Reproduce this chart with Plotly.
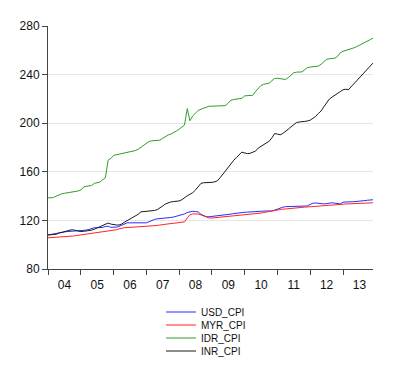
import pandas as pd
import plotly.graph_objects as go

months = pd.date_range("2004-01-01", "2013-12-01", freq="MS")

usd_cpi = [108.0, 108.5, 109.0, 109.5, 110.0, 110.3, 110.5, 110.8, 111.0, 111.2, 111.5, 111.3,
           111.3, 111.6, 112.0, 112.5, 113.2, 114.0, 114.0, 114.0, 114.2, 115.0, 115.2, 114.3,
           114.2, 114.5, 115.0, 116.0, 117.0, 118.0, 118.0, 118.0, 117.8, 117.5, 117.6, 117.8,
           118.0, 119.0, 120.0, 120.8, 121.3, 121.5, 121.5, 121.5, 122.0, 122.4, 122.8, 123.3,
           123.7, 124.2, 125.3, 126.5, 127.3, 127.5, 127.3, 127.0, 125.0, 123.8, 123.0, 123.0,
           123.2, 123.5, 123.7, 123.9, 124.1, 124.5, 124.8, 125.2, 125.6, 126.0, 126.2, 126.5,
           126.7, 126.8, 127.0, 127.2, 127.4, 127.6, 127.7, 127.7, 127.8, 127.8, 127.8, 128.5,
           129.5, 130.2, 130.8, 131.3, 131.3, 131.2, 131.3, 131.3, 131.3, 131.5, 131.8, 132.0,
           133.0, 134.2, 134.3, 134.0, 133.8, 133.6, 133.8, 134.3, 134.5, 134.2, 133.8, 133.6,
           135.0, 135.3, 135.3, 135.3, 135.4, 135.5, 135.8, 136.0, 136.3, 136.6, 136.9, 137.0]

myr_cpi = [105.7, 105.8, 105.9, 106.0, 106.2, 106.3, 106.4, 106.5, 106.8, 107.1, 107.4, 107.7,
           108.0, 108.4, 108.8, 109.2, 109.6, 110.0, 110.2, 110.4, 110.6, 110.8, 111.2, 111.6,
           112.0, 112.3, 113.0, 113.8, 114.0, 114.1, 114.2, 114.3, 114.5, 114.7, 114.8, 115.0,
           115.1, 115.3, 115.5, 115.6, 115.8, 116.2, 116.6, 117.0, 117.2, 117.4, 117.6, 117.8,
           118.0, 118.2, 118.8, 122.0, 124.6, 125.3, 125.5, 125.3, 124.5, 123.5, 122.5, 122.0,
           122.0, 122.2, 122.4, 122.6, 122.8, 123.0, 123.2, 123.4, 123.6, 123.8, 124.0, 124.2,
           124.4, 124.6, 124.8, 125.0, 125.3, 125.6, 126.0, 126.5, 127.0, 127.5, 127.9, 128.3,
           128.6, 128.9, 129.2, 129.5, 129.8, 130.0, 130.2, 130.4, 130.5, 130.7, 130.9, 131.1,
           131.3, 131.5, 131.7, 131.9, 132.0, 132.2, 132.4, 132.6, 132.8, 133.0, 133.1, 133.3,
           133.4, 133.5, 133.6, 133.7, 133.8, 133.9, 134.0, 134.1, 134.2, 134.3, 134.4, 134.5]

idr_cpi = [138.5, 138.5, 138.8, 140.0, 141.0, 141.8, 142.3, 142.7, 143.0, 143.2, 143.5, 144.2,
           145.0, 147.5, 148.0, 148.3, 148.8, 150.5, 151.0, 151.5, 153.5, 155.0, 169.5, 171.0,
           173.5, 174.0, 174.3, 174.6, 175.0, 175.5, 176.0, 176.5, 177.5, 178.5, 180.0, 182.0,
           183.5, 185.0, 185.5, 185.5, 185.5, 186.0, 187.5, 189.0, 190.3, 191.0, 192.0, 193.5,
           195.0, 197.0, 198.5, 212.0, 202.0, 206.0, 208.5, 210.5, 211.5, 212.5, 213.5, 214.0,
           214.0, 214.0, 214.0, 214.0, 214.0, 214.5, 216.5, 219.0, 219.5, 219.8, 220.0, 220.5,
           222.5, 222.5, 222.5, 223.0, 226.0, 228.5, 231.0, 232.0, 232.5, 233.0, 235.0, 236.8,
           237.0, 236.5, 236.0, 236.0, 237.5, 239.5, 241.5, 242.0, 242.0, 242.2, 244.0, 245.8,
           246.2, 246.5, 246.8, 247.0, 248.5, 251.0, 252.5, 253.0, 253.3, 253.5, 255.0, 258.0,
           259.2, 259.8, 260.5, 261.3, 262.0, 263.0, 264.0, 265.2, 266.4, 267.6, 268.8, 270.0]

inr_cpi = [108.0, 108.2, 108.3, 108.6, 109.5, 110.3, 110.8, 111.3, 112.0, 112.3, 111.8, 111.0,
           110.8, 111.0, 111.2, 111.6, 112.0, 112.8, 113.8, 114.5, 115.5, 116.8, 117.8, 117.0,
           116.5, 116.2, 116.2, 117.0, 118.5, 119.8, 120.8, 121.8, 123.2, 125.0, 127.0, 127.2,
           127.3, 127.5, 127.8, 128.2, 128.8, 130.0, 131.8, 133.5, 134.5, 135.2, 135.5, 135.8,
           136.0, 137.0, 139.0, 140.3, 141.5, 142.8, 145.0, 148.0, 150.5, 151.0, 151.0, 151.0,
           151.3, 151.8, 152.5, 155.0, 157.8, 161.5, 164.5, 167.0, 169.5, 171.8, 174.0, 176.2,
           175.5, 175.0, 175.2, 175.8, 177.0, 179.5, 181.0, 182.5, 183.8, 185.2, 188.0, 191.5,
           191.0, 190.5, 191.5, 193.0, 195.0, 197.0, 199.0, 200.5, 201.0, 201.5, 201.5, 201.8,
           202.5, 204.0, 205.5, 208.0, 210.0, 213.5, 217.0, 219.8, 221.5, 222.8, 224.5, 226.0,
           227.5, 228.0, 227.5, 230.0, 232.5, 235.0, 237.5, 240.0, 242.2, 244.6, 247.0, 249.5]

series_names = ["USD_CPI", "MYR_CPI", "IDR_CPI", "INR_CPI"]
series_values = [usd_cpi, myr_cpi, idr_cpi, inr_cpi]
series_colors = ["#2b2bff", "#ff2424", "#2e9e2e", "#1a1a1a"]
legend_ids = ["legend", "legend2", "legend3", "legend4"]
legend_rows = [312, 325, 338, 351]

W, H = 400, 384
OFF = 8  # page offset of the plot div
L, T = 48 - OFF, 26 - OFF
PW, PH = 325, 243
R, B = W - L - PW, H - T - PH

fig = go.Figure()
for name, vals, col, lg in zip(series_names, series_values, series_colors, legend_ids):
    fig.add_trace(go.Scatter(x=months, y=vals, mode="lines", name=name,
                             line=dict(color=col, width=1), legend=lg))

font = dict(family="Liberation Sans, Arial, sans-serif", size=12, color="#111111")
legend_kw = {}
for lg, row in zip(legend_ids, legend_rows):
    legend_kw[lg] = dict(x=(161 - 48) / PW, xanchor="left",
                         y=(26 + PH - row) / PH, yanchor="middle",
                         font=dict(family="Liberation Sans, Arial, sans-serif", size=10, color="#111111"),
                         bgcolor="rgba(0,0,0,0)", borderwidth=0)

fig.update_layout(
    width=W, height=H,
    margin=dict(l=L, r=R, t=T, b=B),
    paper_bgcolor="white", plot_bgcolor="white",
    font=font,
    showlegend=True,
    **legend_kw,
    xaxis=dict(type="date", range=["2004-01-01", "2013-12-01"],
               tick0="2004-01-01", dtick="M12", tickformat="%y",
               ticklabelmode="period", ticks="outside", ticklen=5,
               tickcolor="#444444", showline=True, linecolor="#444444",
               linewidth=1, showgrid=False, zeroline=False,
               tickfont=font),
    yaxis=dict(range=[80, 280], dtick=40, tick0=80, ticks="outside", ticklen=5,
               tickcolor="#444444", showline=True, linecolor="#444444", linewidth=1,
               showgrid=True, gridcolor="#e6e6e6", gridwidth=1, zeroline=False,
               tickfont=font),
)

fig.write_html("out.html")
